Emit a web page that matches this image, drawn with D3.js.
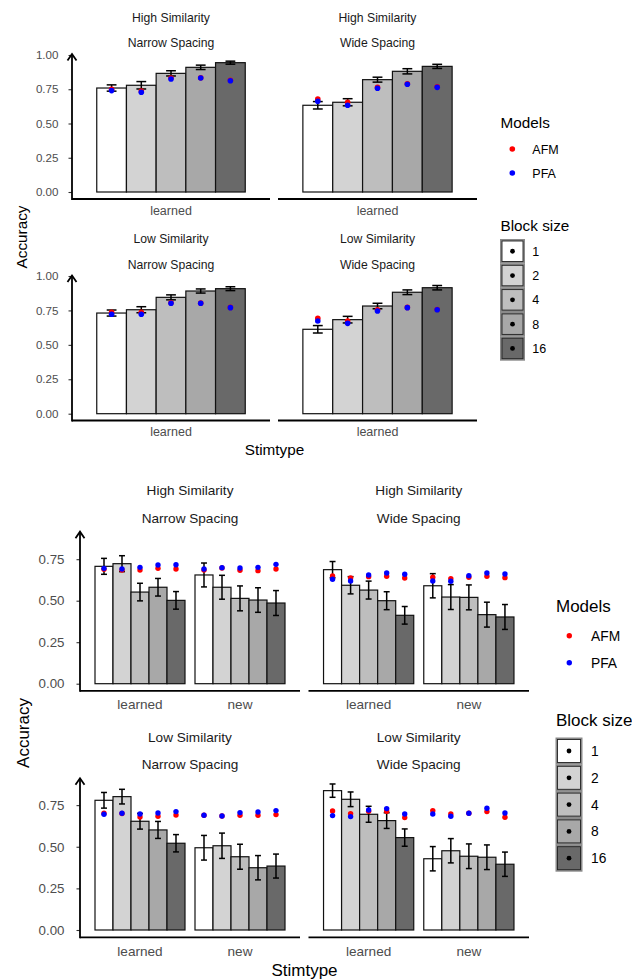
<!DOCTYPE html>
<html><head><meta charset="utf-8">
<script src="https://cdn.jsdelivr.net/npm/d3@7"></script>
<style>body{margin:0;background:#fff}svg{display:block}text{font-family:"Liberation Sans",Arial,sans-serif}</style>
</head><body>
<svg id="c" width="632" height="979"></svg>
<script>
// ---------- data ----------
const blockSizes = ["1", "2", "4", "8", "16"];
const blockFills = ["#ffffff", "#d3d3d3", "#bebebe", "#a8a8a8", "#696969"];
const models = ["AFM", "PFA"];
const modelColors = ["#ff0000", "#0000ff"];
const panelRow1 = ["High Similarity", "High Similarity", "Low Similarity", "Low Similarity"];
const panelRow2 = ["Narrow Spacing", "Wide Spacing", "Narrow Spacing", "Wide Spacing"];

// top figure: stimtype "learned" only; one array of 5 block sizes per panel
const topStim = ["learned"];
const topTicks = [0, 0.25, 0.5, 0.75, 1.0];
const topMean = [
  [0.759, 0.779, 0.866, 0.910, 0.944],
  [0.633, 0.655, 0.820, 0.881, 0.917],
  [0.731, 0.755, 0.845, 0.891, 0.908],
  [0.613, 0.683, 0.782, 0.882, 0.915]];
const topErr = [
  [0.023, 0.027, 0.019, 0.016, 0.011],
  [0.027, 0.026, 0.018, 0.019, 0.015],
  [0.022, 0.022, 0.018, 0.015, 0.014],
  [0.027, 0.024, 0.020, 0.017, 0.016]];
const topAFM = [
  [0.750, 0.737, 0.832, 0.834, 0.815],
  [0.679, 0.655, 0.764, 0.790, 0.768],
  [0.736, 0.736, 0.805, 0.803, 0.772],
  [0.693, 0.673, 0.755, 0.772, 0.757]];
const topPFA = [
  [0.740, 0.728, 0.825, 0.832, 0.812],
  [0.662, 0.633, 0.757, 0.786, 0.764],
  [0.722, 0.722, 0.802, 0.802, 0.770],
  [0.673, 0.656, 0.746, 0.770, 0.755]];

// bottom figure: stimtypes learned / new; per panel [learned x5, new x5]
const botStim = ["learned", "new"];
const botTicks = [0, 0.25, 0.5, 0.75];
const botMean = [
  [[0.707, 0.723, 0.552, 0.581, 0.502], [0.655, 0.581, 0.514, 0.504, 0.486]],
  [[0.687, 0.593, 0.564, 0.500, 0.412], [0.590, 0.522, 0.520, 0.416, 0.402]],
  [[0.779, 0.801, 0.653, 0.601, 0.521], [0.494, 0.506, 0.440, 0.374, 0.384]],
  [[0.837, 0.785, 0.695, 0.657, 0.555], [0.428, 0.476, 0.443, 0.437, 0.395]]];
const botErr = [
  [[0.048, 0.048, 0.053, 0.053, 0.053], [0.072, 0.072, 0.075, 0.074, 0.075]],
  [[0.049, 0.052, 0.054, 0.054, 0.053], [0.073, 0.075, 0.075, 0.075, 0.075]],
  [[0.047, 0.044, 0.047, 0.051, 0.052], [0.074, 0.076, 0.075, 0.073, 0.072]],
  [[0.040, 0.044, 0.048, 0.047, 0.052], [0.073, 0.073, 0.074, 0.074, 0.073]]];
const botAFM = [
  [[0.690, 0.685, 0.685, 0.695, 0.691], [0.685, 0.697, 0.683, 0.681, 0.691]],
  [[0.649, 0.637, 0.645, 0.647, 0.637], [0.641, 0.633, 0.641, 0.647, 0.639]],
  [[0.701, 0.700, 0.679, 0.683, 0.691], [0.689, 0.685, 0.689, 0.689, 0.693]],
  [[0.715, 0.699, 0.713, 0.713, 0.675], [0.717, 0.697, 0.701, 0.711, 0.677]]];
const botPFA = [
  [[0.695, 0.691, 0.701, 0.715, 0.717], [0.691, 0.699, 0.697, 0.701, 0.719]],
  [[0.629, 0.619, 0.655, 0.667, 0.659], [0.619, 0.617, 0.651, 0.667, 0.661]],
  [[0.695, 0.701, 0.697, 0.703, 0.711], [0.689, 0.685, 0.705, 0.709, 0.717]],
  [[0.687, 0.681, 0.721, 0.729, 0.697], [0.697, 0.683, 0.701, 0.731, 0.703]]];

// ---------- drawing ----------
const svg = d3.select("#c");

function drawFigure(cfg) {
  const g = svg.append("g");
  cfg.panels.forEach((p, pi) => {
    const col = pi % 2, row = Math.floor(pi / 2);
    const [px0, px1] = cfg.cols[col];
    const r = cfg.rows[row];
    const y = d3.scaleLinear().domain([0, 1]).range([r.y0, r.y0 - r.unit]);
    const x0 = d3.scaleBand().domain(cfg.stims).range([px0, px1]).paddingInner(0.1).paddingOuter(0.15);
    const x1 = d3.scaleBand().domain(blockSizes).range([0, x0.bandwidth()]);
    const pg = g.append("g");
    // strip text
    const cx = (px0 + px1) / 2;
    pg.append("text").attr("x", cx).attr("y", r.s1).attr("text-anchor", "middle")
      .attr("font-size", cfg.stripFs).attr("fill", "#1a1a1a").text(panelRow1[pi]);
    pg.append("text").attr("x", cx).attr("y", r.s2).attr("text-anchor", "middle")
      .attr("font-size", cfg.stripFs).attr("fill", "#1a1a1a").text(panelRow2[pi]);
    // bars
    const recs = [];
    cfg.stims.forEach((st, si) => {
      blockSizes.forEach((b, bi) => {
        recs.push({ st, b, bi,
          m: cfg.mean(pi, si, bi), e: cfg.err(pi, si, bi),
          afm: cfg.afm(pi, si, bi), pfa: cfg.pfa(pi, si, bi) });
      });
    });
    const bx = d => x0(d.st) + x1(d.b);
    const bc = d => bx(d) + x1.bandwidth() / 2;
    pg.selectAll("rect.bar").data(recs).join("rect").attr("class", "bar")
      .attr("x", bx).attr("width", x1.bandwidth())
      .attr("y", d => y(d.m)).attr("height", d => y(0) - y(d.m))
      .attr("fill", d => blockFills[d.bi]).attr("stroke", "#111").attr("stroke-width", 1.2);
    // error bars
    const cw = x1.bandwidth() * 0.165;
    const eb = pg.selectAll("g.eb").data(recs).join("g").attr("class", "eb")
      .attr("stroke", "#000").attr("stroke-width", 1.5);
    eb.append("line").attr("x1", bc).attr("x2", bc)
      .attr("y1", d => y(d.m - d.e)).attr("y2", d => y(d.m + d.e));
    eb.append("line").attr("x1", d => bc(d) - cw).attr("x2", d => bc(d) + cw)
      .attr("y1", d => y(d.m - d.e)).attr("y2", d => y(d.m - d.e));
    eb.append("line").attr("x1", d => bc(d) - cw).attr("x2", d => bc(d) + cw)
      .attr("y1", d => y(d.m + d.e)).attr("y2", d => y(d.m + d.e));
    // model points
    pg.selectAll("circle.afm").data(recs).join("circle").attr("class", "afm")
      .attr("cx", bc).attr("cy", d => y(d.afm)).attr("r", cfg.pr)
      .attr("fill", modelColors[0]);
    pg.selectAll("circle.pfa").data(recs).join("circle").attr("class", "pfa")
      .attr("cx", bc).attr("cy", d => y(d.pfa)).attr("r", cfg.pr)
      .attr("fill", modelColors[1]);
    // x axis line
    pg.append("line").attr("x1", px0).attr("x2", px1).attr("y1", r.bottom).attr("y2", r.bottom)
      .attr("stroke", "#000").attr("stroke-width", 1.8);
    // category labels
    pg.selectAll("text.xl").data(cfg.stims).join("text").attr("class", "xl")
      .attr("x", d => x0(d) + x0.bandwidth() / 2).attr("y", r.xl).attr("text-anchor", "middle")
      .attr("font-size", cfg.xlFs).attr("fill", "#4d4d4d").text(d => d);
    // y axis on first column
    if (col === 0) {
      const ax = d3.axisLeft(y).tickValues(cfg.ticks).tickFormat(d3.format(".2f")).tickSize(3.5).tickPadding(cfg.tickPad);
      const ag = pg.append("g").attr("transform", `translate(${px0},0)`).call(ax);
      ag.select(".domain").remove();
      ag.selectAll(".tick line").attr("stroke", "#333").attr("stroke-width", 1.1);
      ag.selectAll(".tick text").attr("font-size", cfg.tickFs).attr("fill", "#4d4d4d")
        .attr("font-family", "Liberation Sans, Arial, sans-serif");
      pg.append("line").attr("x1", px0).attr("x2", px0).attr("y1", r.bottom + 0.9).attr("y2", r.top)
        .attr("stroke", "#000").attr("stroke-width", 1.8);
      pg.append("path").attr("d", `M${px0 - 4.5},${r.top + 6.5}L${px0},${r.top}L${px0 + 4.5},${r.top + 6.5}`)
        .attr("fill", "none").attr("stroke", "#000").attr("stroke-width", 1.8);
    }
  });
  // axis titles
  g.append("text").attr("x", cfg.xTitle[0]).attr("y", cfg.xTitle[1]).attr("text-anchor", "middle")
    .attr("font-size", cfg.titleFs).attr("fill", "#000").text("Stimtype");
  g.append("text").attr("transform", `translate(${cfg.yTitle[0]},${cfg.yTitle[1]}) rotate(-90)`)
    .attr("text-anchor", "middle").attr("font-size", cfg.titleFs).attr("fill", "#000").text("Accuracy");
  // legends
  const L = cfg.legend;
  g.append("text").attr("x", L.x).attr("y", L.modelsTitle).attr("font-size", cfg.titleFs).text("Models");
  models.forEach((m, i) => {
    g.append("circle").attr("cx", L.dotX).attr("cy", L.modelY[i]).attr("r", cfg.pr).attr("fill", modelColors[i]);
    g.append("text").attr("x", L.labX).attr("y", L.modelY[i]).attr("dy", "0.36em")
      .attr("font-size", cfg.legFs).text(m);
  });
  g.append("text").attr("x", L.x).attr("y", L.blockTitle).attr("font-size", cfg.titleFs).text("Block size");
  blockSizes.forEach((b, i) => {
    const ky = L.keyTop + i * L.keyStep;
    g.append("rect").attr("x", L.x + 0.5).attr("y", ky).attr("width", L.keyW).attr("height", L.keyH)
      .attr("fill", blockFills[i]).attr("stroke", "#8a8a8a").attr("stroke-width", 2);
    g.append("rect").attr("x", L.x + 1.5).attr("y", ky + 1).attr("width", L.keyW - 2).attr("height", L.keyH - 2)
      .attr("fill", "none").attr("stroke", "#222").attr("stroke-width", 0.9);
    g.append("circle").attr("cx", L.x + 0.5 + L.keyW / 2).attr("cy", ky + L.keyH / 2).attr("r", 2.4).attr("fill", "#000");
    g.append("text").attr("x", L.labX).attr("y", ky + L.keyH / 2).attr("dy", "0.36em")
      .attr("font-size", cfg.legFs).text(b);
  });
}

drawFigure({
  stims: topStim, ticks: topTicks,
  mean: (p, s, b) => topMean[p][b], err: (p, s, b) => topErr[p][b],
  afm: (p, s, b) => topAFM[p][b], pfa: (p, s, b) => topPFA[p][b],
  panels: [0, 1, 2, 3],
  cols: [[72, 270], [278, 477]],
  rows: [
    { y0: 192, unit: 137, top: 54, bottom: 199, s1: 21.5, s2: 47, xl: 215 },
    { y0: 413.7, unit: 137.7, top: 275.5, bottom: 420.5, s1: 243, s2: 268.5, xl: 436 }],
  stripFs: 12.2, xlFs: 12.5, tickFs: 11.6, tickPad: 10, titleFs: 15.3, legFs: 12.5, pr: 2.8,
  xTitle: [274.5, 455], yTitle: [27, 237],
  legend: { x: 500.5, modelsTitle: 127.5, dotX: 512.3, labX: 532.3, modelY: [149, 173],
    blockTitle: 231, keyTop: 240, keyStep: 24.3, keyW: 23, keyH: 22.5 }
});

drawFigure({
  stims: botStim, ticks: botTicks,
  mean: (p, s, b) => botMean[p][s][b], err: (p, s, b) => botErr[p][s][b],
  afm: (p, s, b) => botAFM[p][s][b], pfa: (p, s, b) => botPFA[p][s][b],
  panels: [0, 1, 2, 3],
  cols: [[80, 300], [308.5, 529]],
  rows: [
    { y0: 683.7, unit: 166, top: 531.7, bottom: 690.8, s1: 494.5, s2: 522.5, xl: 709 },
    { y0: 930, unit: 166.5, top: 778.3, bottom: 937.3, s1: 741.5, s2: 768.5, xl: 955.5 }],
  stripFs: 13.6, xlFs: 13.6, tickFs: 13.3, tickPad: 12, titleFs: 17, legFs: 13.8, pr: 2.7,
  xTitle: [304.5, 975.5], yTitle: [29, 733],
  legend: { x: 556, modelsTitle: 611.5, dotX: 569.3, labX: 591, modelY: [635.7, 662.7],
    blockTitle: 726, keyTop: 738.5, keyStep: 26.8, keyW: 25, keyH: 25 }
});
</script>
</body></html>
